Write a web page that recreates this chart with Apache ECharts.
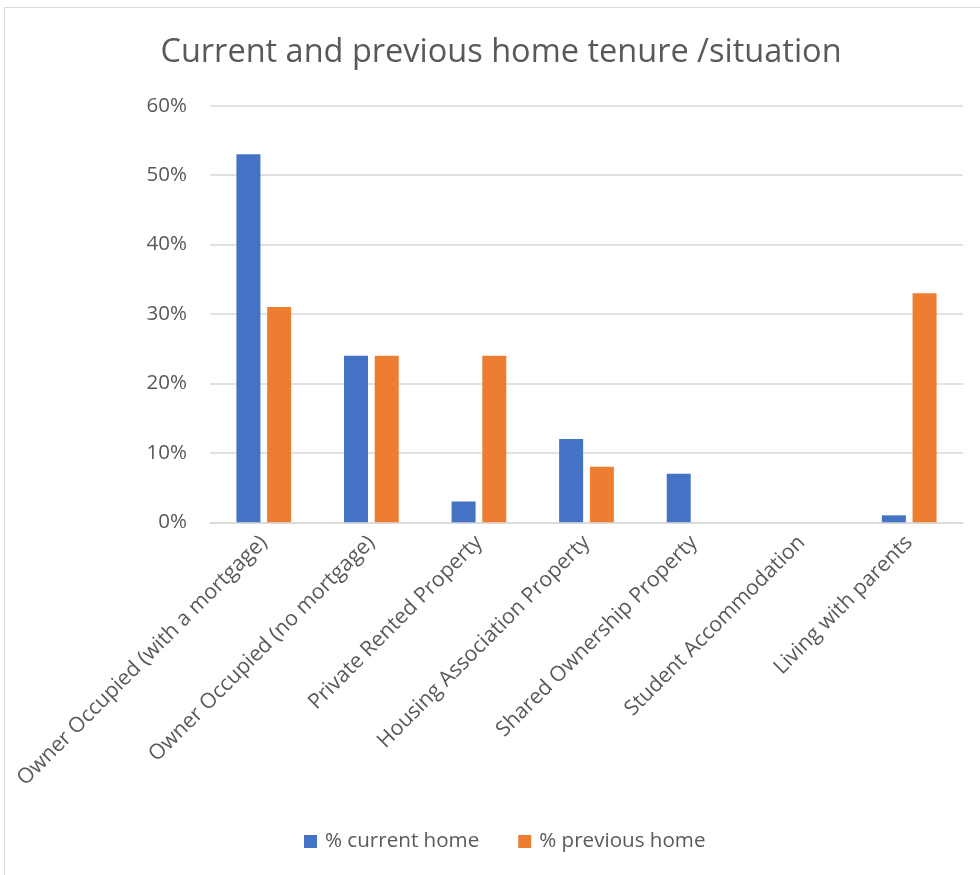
<!DOCTYPE html>
<html>
<head>
<meta charset="utf-8">
<script src="https://cdn.jsdelivr.net/npm/echarts@6/dist/echarts.min.js"></script>
<style>
html,body{margin:0;padding:0;background:#fff;}
#chart{width:980px;height:875px;}
</style>
</head>
<body>
<div id="chart"></div>
<script>
const categories = [
  "Owner Occupied (with a mortgage)",
  "Owner Occupied (no mortgage)",
  "Private Rented Property",
  "Housing Association Property",
  "Shared Ownership Property",
  "Student Accommodation",
  "Living with parents"
];
const currentHome = [53, 24, 3, 12, 7, 0, 1];
const previousHome = [31, 24, 24, 8, 0, 0, 33];
const seriesNames = ["% current home", "% previous home"];
const titleText = "Current and previous home tenure /situation";

const FONT = "'Open Sans', sans-serif";
const TXT = "#595959";

const chart = echarts.init(document.getElementById('chart'), null, {renderer: 'canvas'});
chart.setOption({
  backgroundColor: '#ffffff',
  animation: false,
  graphic: [{
    type: 'rect',
    shape: {x: 4.5, y: 7.5, width: 1000, height: 900},
    style: {fill: 'none', stroke: '#d9d9d9', lineWidth: 1},
    silent: true
  }],
  title: {
    text: titleText,
    left: 496,
    textAlign: 'center',
    top: 31,
    textStyle: {fontFamily: FONT, fontSize: 32.5, fontWeight: 'normal', color: TXT}
  },
  legend: {
    data: seriesNames,
    bottom: 18,
    left: 299,
    itemWidth: 13,
    itemHeight: 13,
    itemGap: 39,
    icon: 'rect',
    textStyle: {fontFamily: FONT, fontSize: 20.6, color: TXT, padding: [0, 0, 0, 3]}
  },
  grid: {left: 210, right: 17, top: 105.7, bottom: 352.7, containLabel: false},
  xAxis: {
    type: 'category',
    data: categories,
    axisLine: {lineStyle: {color: '#d9d9d9', width: 1.5}},
    axisTick: {show: false},
    axisLabel: {rotate: 45, interval: 0, margin: 17, fontFamily: FONT, fontSize: 21.2, color: TXT}
  },
  yAxis: {
    type: 'value',
    min: 0, max: 60, interval: 10,
    axisLine: {show: false},
    axisTick: {show: false},
    splitLine: {lineStyle: {color: '#d9d9d9', width: 1.5}},
    axisLabel: {formatter: '{value}%', margin: 23, fontFamily: FONT, fontSize: 20.5, color: TXT}
  },
  series: [
    {
      name: seriesNames[0], type: 'bar', data: currentHome,
      barWidth: 24, barGap: '28%',
      itemStyle: {color: '#4472C4'}
    },
    {
      name: seriesNames[1], type: 'bar', data: previousHome,
      barWidth: 24, barGap: '28%',
      itemStyle: {color: '#ED7D31'}
    }
  ]
});
</script>
</body>
</html>
